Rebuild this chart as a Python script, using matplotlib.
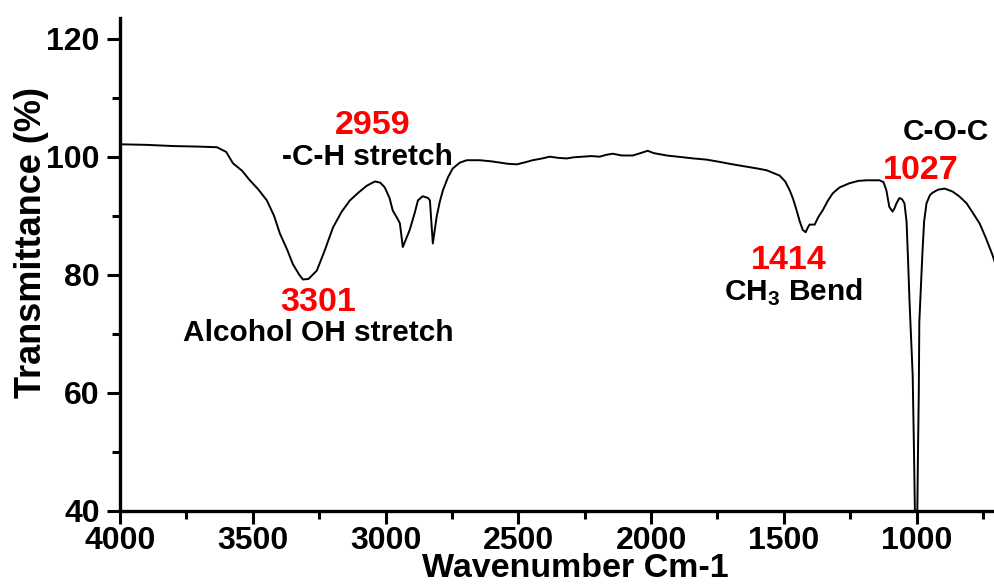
import matplotlib
matplotlib.use('Agg')
import matplotlib.pyplot as plt
from matplotlib.ticker import MultipleLocator

plt.rcParams['font.family'] = ['Liberation Sans', 'DejaVu Sans']
plt.rcParams['font.weight'] = 'bold'
plt.rcParams['mathtext.fontset'] = 'custom'
plt.rcParams['mathtext.rm'] = 'Liberation Sans:bold'
plt.rcParams['mathtext.bf'] = 'Liberation Sans:bold'

# traced FTIR spectrum (wavenumber, transmittance %)
wavenumber = [4000, 3900, 3800, 3700, 3635, 3600, 3575, 3540, 3511, 3480, 3447,
              3420, 3398, 3370, 3349, 3325, 3311, 3290, 3259, 3230, 3198, 3165,
              3134, 3100, 3070, 3040, 3020, 3003, 2985, 2973, 2955, 2946, 2935,
              2925, 2909, 2890, 2878, 2860, 2840, 2833, 2822, 2815, 2807, 2795,
              2784, 2765, 2747, 2720, 2694, 2645, 2600, 2570, 2540, 2506, 2470,
              2446, 2410, 2382, 2350, 2318, 2290, 2258, 2225, 2194, 2170, 2145,
              2110, 2069, 2040, 2013, 1990, 1941, 1881, 1840, 1791, 1740, 1693,
              1640, 1600, 1565, 1516, 1495, 1478, 1465, 1452, 1440, 1429, 1418,
              1410, 1403, 1384, 1370, 1354, 1335, 1316, 1290, 1253, 1220, 1189,
              1140, 1125, 1114, 1103, 1091, 1083, 1076, 1065, 1055, 1046, 1038,
              1032, 1027, 1020, 1015, 1010, 1006, 1002, 998, 995, 992, 990, 985,
              978, 972, 963, 950, 940, 920, 895, 865, 840, 812, 790, 763, 740,
              714, 700]
transmittance = [102.1, 102.0, 101.8, 101.7, 101.6, 100.8, 98.9, 97.6, 96.0, 94.5, 92.6,
                 90.0, 87.0, 84.2, 81.8, 80.0, 79.2, 79.3, 80.7, 84.0, 88.0, 90.7,
                 92.6, 94.0, 95.1, 95.8, 95.6, 94.8, 93.0, 90.9, 89.5, 88.7, 84.7,
                 85.8, 87.6, 90.5, 92.6, 93.3, 93.0, 92.6, 85.3, 87.5, 90.0, 92.5,
                 94.3, 96.5, 98.0, 99.0, 99.4, 99.4, 99.2, 99.0, 98.8, 98.7, 99.1,
                 99.4, 99.7, 100.0, 99.8, 99.7, 99.9, 100.0, 100.1, 100.0, 100.3, 100.5,
                 100.2, 100.2, 100.6, 101.0, 100.6, 100.2, 99.9, 99.7, 99.5, 99.1, 98.7,
                 98.3, 98.0, 97.7, 96.8, 95.8, 94.3, 92.8, 90.9, 89.0, 87.6, 87.2,
                 88.0, 88.5, 88.5, 89.8, 90.9, 92.5, 93.8, 94.8, 95.5, 95.9, 96.0,
                 96.0, 95.7, 94.3, 91.5, 90.7, 91.3, 92.1, 93.0, 92.8, 92.1, 89.0,
                 82.0, 75.6, 68.0, 63.0, 50.0, 38.0, 30.0, 38.0, 50.0, 60.0, 72.0, 77.0,
                 84.0, 89.0, 92.1, 93.5, 93.9, 94.4, 94.6, 94.1, 93.3, 92.1, 90.6, 88.7, 86.3,
                 83.3, 81.3]

# peak annotations
ann_text = ['2959', '-C-H stretch', '3301', 'Alcohol OH stretch',
            '1414', r'CH$_\mathbf{3}$ Bend', '1027', 'C-O-C']
ann_x = [3048, 3067, 3255, 3255, 1482, 1463, 985, 891]
ann_y = [105.3, 99.9, 75.3, 70.1, 82.4, 77.0, 97.7, 104.1]
ann_color = ['red', 'black', 'red', 'black', 'red', 'black', 'red', 'black']
ann_size = [24.5, 21.5, 24.5, 21.5, 24.5, 21.5, 24.5, 21.5]

fig = plt.figure(figsize=(9.95, 5.87), dpi=100)
ax = fig.add_axes([0.1206, 0.1295, 0.8794, 0.840])

ax.plot(wavenumber, transmittance, color='black', lw=1.4)

for t, x, y, c, s in zip(ann_text, ann_x, ann_y, ann_color, ann_size):
    ax.text(x, y, t, color=c, fontsize=s, fontweight='bold', ha='center', va='center')

ax.set_xlim(4000, 705)
ax.set_ylim(40, 123.5)
ax.xaxis.set_major_locator(MultipleLocator(500))
ax.xaxis.set_minor_locator(MultipleLocator(250))
ax.yaxis.set_major_locator(MultipleLocator(20))
ax.yaxis.set_minor_locator(MultipleLocator(10))

for side in ['top', 'right']:
    ax.spines[side].set_visible(False)
for side in ['left', 'bottom']:
    ax.spines[side].set_linewidth(2.4)

ax.tick_params(which='major', length=9.5, width=2.2, labelsize=23)
ax.tick_params(which='minor', length=6, width=2.2)
ax.tick_params(axis='x', pad=1)
ax.tick_params(axis='y', pad=5)

ax.set_xlabel('Wavenumber Cm-1', fontsize=24.5, fontweight='bold', labelpad=-1.5, x=0.52)
ax.set_ylabel('Transmittance (%)', fontsize=26, fontweight='bold', labelpad=-2, y=0.545)

fig.savefig('out.png', dpi=100)
